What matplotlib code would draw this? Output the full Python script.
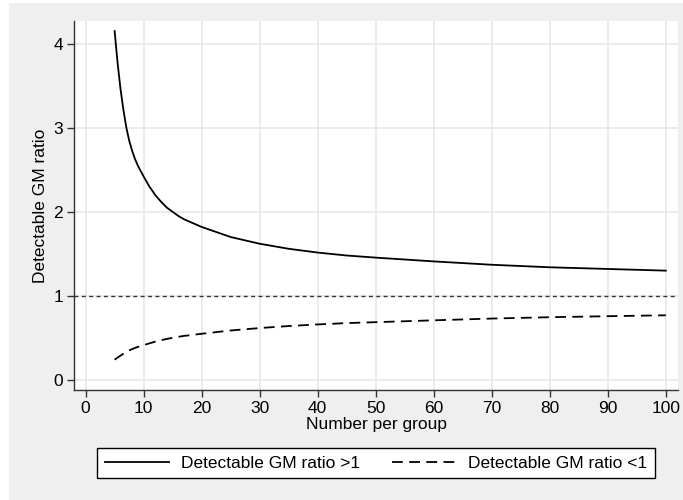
import matplotlib.pyplot as plt
from matplotlib.patches import Rectangle

plt.rcParams['font.family'] = ['Liberation Sans Narrow', 'Liberation Sans', 'DejaVu Sans']

# Number per group and detectable geometric-mean ratios
n_per_group = [5, 5.5, 6, 6.5, 7, 7.5, 8, 8.5, 9, 10, 11, 12, 13, 14, 15, 16,
               17, 18, 20, 25, 30, 35, 40, 45, 50, 60, 70, 80, 90, 100]
ratio_up = [4.15, 3.78, 3.47, 3.22, 3.01, 2.85, 2.73, 2.63, 2.55, 2.42, 2.30,
            2.20, 2.12, 2.05, 2.00, 1.95, 1.91, 1.88, 1.82, 1.70, 1.62, 1.56,
            1.515, 1.48, 1.455, 1.41, 1.37, 1.34, 1.32, 1.30]
ratio_down = [0.241, 0.265, 0.288, 0.311, 0.332, 0.351, 0.366, 0.380, 0.392,
              0.413, 0.435, 0.455, 0.472, 0.488, 0.500, 0.513, 0.524, 0.532,
              0.549, 0.588, 0.617, 0.641, 0.660, 0.676, 0.687, 0.709, 0.730,
              0.746, 0.758, 0.769]
ref_ratio = 1

x_ticks = list(range(0, 101, 10))
y_ticks = [0, 1, 2, 3, 4]

bg = '#efefef'
fs = 12.5

fig = plt.figure(figsize=(6.83, 5.0), dpi=100, facecolor='white')
W, H = 683, 500
fig.patches.append(Rectangle((9 / W, 0), 1 - 9 / W, 1 - 3 / H,
                             transform=fig.transFigure, facecolor=bg,
                             edgecolor='none', zorder=-10))

ax = fig.add_axes([74 / W, 1 - 390 / H, (678 - 74) / W, (390 - 21) / H])
ax.set_facecolor('white')

ax.plot(n_per_group, ratio_up, color='black', lw=1.3,
        label='Detectable GM ratio >1')
ax.plot(n_per_group, ratio_down, color='black', lw=1.3, dashes=(6, 3.5),
        label='Detectable GM ratio <1')
ax.axhline(ref_ratio, color='#333333', lw=1.0, dashes=(2.8, 2.5))

ax.set_xlim(-2.0, 102.1)
ax.set_ylim(-0.12, 4.27)
ax.set_xticks(x_ticks)
ax.set_yticks(y_ticks)
ax.grid(True, color='#e8e8e8', lw=1.2)
ax.set_axisbelow(True)

for s in ['top', 'right']:
    ax.spines[s].set_visible(False)
for s in ['left', 'bottom']:
    ax.spines[s].set_color('#333333')
    ax.spines[s].set_linewidth(1.0)

ax.tick_params(direction='out', length=5, width=1, color='#333333',
               labelsize=fs, pad=3)
ax.set_xlabel('Number per group', fontsize=fs, labelpad=1)
ax.set_ylabel('Detectable GM ratio', fontsize=fs, labelpad=4)

leg = fig.legend(loc='center', bbox_to_anchor=(376 / W, 1 - 463 / H), ncol=2,
                 fontsize=fs, frameon=True, fancybox=False, handlelength=3.7,
                 columnspacing=1.8, borderpad=0.45, handletextpad=0.7)
leg.get_frame().set_edgecolor('black')
leg.get_frame().set_linewidth(1.0)
leg.get_frame().set_facecolor('white')
leg.get_frame().set_alpha(1)

fig.savefig('out.png', dpi=100, facecolor=fig.get_facecolor())
